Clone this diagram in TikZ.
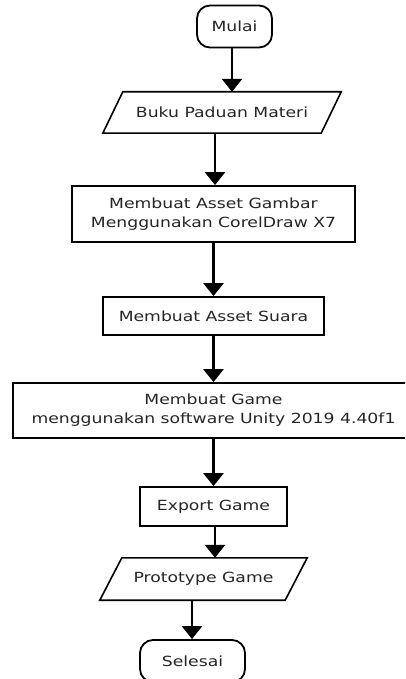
\documentclass[tikz,border=0pt]{standalone}
\usepackage{fontspec}
\setmainfont{DejaVu Sans}[FakeStretch=1.23]
\usetikzlibrary{arrows.meta}
\begin{document}
\begin{tikzpicture}[x=1pt,y=-1pt,
  every node/.style={font=\fontsize{14}{19}\selectfont, text=black!85, align=center, inner sep=0pt},
  box/.style={draw=black, line width=1.8pt, rectangle, minimum width=#1},
  term/.style={draw=black, line width=1.8pt, rectangle, rounded corners=13pt, minimum width=#1},
  paratext/.style={rectangle, minimum width=#1},
  paraline/.style={draw=black, line width=1.6pt, line join=miter},
  arr/.style={line width=2.6pt, -{Triangle[width=20pt,length=13pt]}}]
\useasboundingbox (0,0) rectangle (405,679);
\clip (0,0) rectangle (405,679);
\fill[white] (0,0) rectangle (405,679);
\node[term=75pt, minimum height=42pt] (mulai) at (234.5,26.5) {Mulai};
\node[paratext=218pt, minimum height=41pt] (buku) at (222,112.5) {Buku Paduan Materi};
\draw[paraline] ([xshift=10pt]buku.north west) -- ([xshift=10pt]buku.north east)
  -- ([xshift=-10pt]buku.south east) -- ([xshift=-10pt]buku.south west) -- cycle;
\node[box=283pt, minimum height=56pt] (gambar) at (213.5,214) {Membuat Asset Gambar\\Menggunakan CorelDraw X7};
\node[box=221pt, minimum height=38pt] (suara) at (213.5,316) {Membuat Asset Suara};
\node[box=401pt, minimum height=55pt] (game) at (213.5,410.5) {Membuat Game\\menggunakan software Unity 2019 4.40f1};
\node[box=147pt, minimum height=39pt] (export) at (213.5,506.5) {Export Game};
\node[paratext=185pt, minimum height=42pt] (proto) at (203.5,579) {Prototype Game};
\draw[paraline] ([xshift=11pt]proto.north west) -- ([xshift=11pt]proto.north east)
  -- ([xshift=-11pt]proto.south east) -- ([xshift=-11pt]proto.south west) -- cycle;
\node[term=105pt, minimum height=42pt] (selesai) at (192.5,661) {Selesai};
\draw[arr] ([xshift=-2.5pt]mulai.south) -- ([xshift=-2.5pt]mulai.south |- buku.north);
\draw[arr] ([xshift=-7pt]buku.south) -- ([xshift=-7pt]buku.south |- gambar.north);
\draw[arr] (gambar.south) -- (suara.north);
\draw[arr] (suara.south) -- (game.north);
\draw[arr] (game.south) -- (export.north);
\draw[arr] ([xshift=1.5pt]export.south) -- ([xshift=1.5pt]export.south |- proto.north);
\draw[arr] ([xshift=-11.5pt]proto.south) -- ([xshift=-11.5pt]proto.south |- selesai.north);
\end{tikzpicture}
\end{document}
